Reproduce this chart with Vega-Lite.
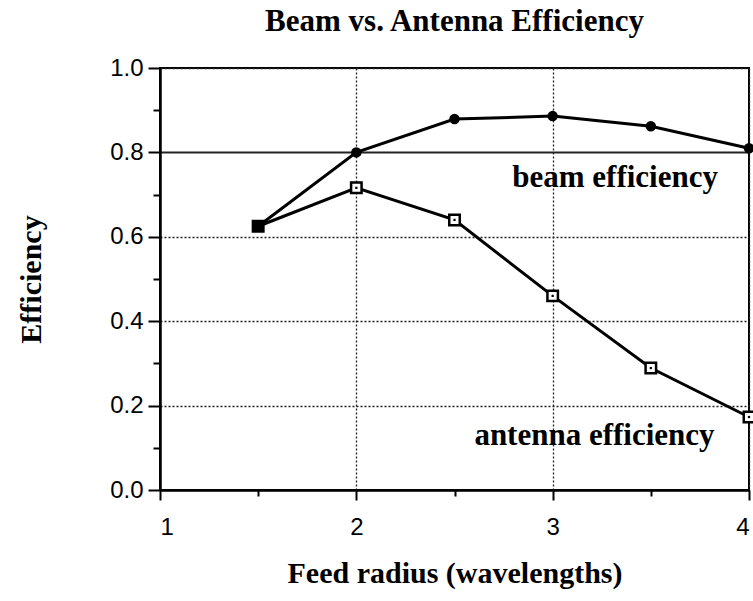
{
  "$schema": "https://vega.github.io/schema/vega-lite/v6.json",
  "autosize": "none",
  "width": 589,
  "height": 422,
  "padding": {"left": 160, "top": 68, "right": 4, "bottom": 111},
  "background": "white",
  "title": {
    "text": "Beam vs. Antenna Efficiency",
    "font": "Liberation Serif",
    "fontSize": 31,
    "fontWeight": "bold",
    "color": "black",
    "anchor": "middle",
    "offset": 18
  },
  "config": {
    "view": {"stroke": "black", "strokeWidth": 2},
    "axis": {
      "domainColor": "black",
      "domainWidth": 2.5,
      "tickColor": "black",
      "tickWidth": 2,
      "labelFont": "Liberation Sans",
      "labelFontSize": 24,
      "labelColor": "black",
      "titleFont": "Liberation Serif",
      "titleFontWeight": "bold",
      "titleFontSize": 30,
      "titleColor": "black",
      "gridColor": "#222",
      "gridWidth": 1.3
    }
  },
  "datasets": {
    "curves": [
      {"radius": 1.5, "efficiency": 0.625, "series": "beam efficiency"},
      {"radius": 2.0, "efficiency": 0.80, "series": "beam efficiency"},
      {"radius": 2.5, "efficiency": 0.879, "series": "beam efficiency"},
      {"radius": 3.0, "efficiency": 0.886, "series": "beam efficiency"},
      {"radius": 3.5, "efficiency": 0.862, "series": "beam efficiency"},
      {"radius": 4.0, "efficiency": 0.81, "series": "beam efficiency"},
      {"radius": 1.5, "efficiency": 0.625, "series": "antenna efficiency"},
      {"radius": 2.0, "efficiency": 0.716, "series": "antenna efficiency"},
      {"radius": 2.5, "efficiency": 0.64, "series": "antenna efficiency"},
      {"radius": 3.0, "efficiency": 0.46, "series": "antenna efficiency"},
      {"radius": 3.5, "efficiency": 0.289, "series": "antenna efficiency"},
      {"radius": 4.0, "efficiency": 0.173, "series": "antenna efficiency"}
    ],
    "labels": [
      {"radius": 3.318, "efficiency": 0.718, "label": "beam efficiency"},
      {"radius": 3.213, "efficiency": 0.107, "label": "antenna efficiency"}
    ]
  },
  "layer": [
    {
      "data": {"name": "curves"},
      "mark": {"type": "line", "color": "black", "strokeWidth": 3},
      "encoding": {
        "x": {
          "field": "radius", "type": "quantitative",
          "scale": {"domain": [1, 4], "nice": false},
          "axis": {
            "title": "Feed radius (wavelengths)",
            "titleBaseline": "alphabetic",
            "titlePadding": 43,
            "values": [1, 1.5, 2, 2.5, 3, 3.5, 4],
            "labelExpr": "datum.value % 1 == 0 ? format(datum.value, 'd') : ''",
            "labelPadding": 15,
            "tickSize": {"condition": {"test": "datum.value % 1 == 0", "value": 10}, "value": 6},
            "grid": true,
            "gridDash": [2, 2],
            "gridOpacity": {"condition": {"test": "datum.value % 1 == 0", "value": 1}, "value": 0}
          }
        },
        "y": {
          "field": "efficiency", "type": "quantitative",
          "scale": {"domain": [0, 1], "nice": false},
          "axis": {
            "title": "Efficiency",
            "titlePadding": 63,
            "values": [0, 0.1, 0.2, 0.3, 0.4, 0.5, 0.6, 0.7, 0.8, 0.9, 1.0],
            "labelExpr": "round(datum.value * 10) % 2 == 0 ? format(datum.value, '.1f') : ''",
            "labelPadding": 5,
            "tickSize": {"condition": {"test": "round(datum.value * 10) % 2 == 0", "value": 12}, "value": 7},
            "grid": true,
            "gridDash": {"condition": {"test": "round(datum.value * 10) == 8", "value": []}, "value": [2, 2]},
            "gridWidth": {"condition": {"test": "round(datum.value * 10) == 8", "value": 2.2}, "value": 1.3},
            "gridOpacity": {"condition": {"test": "round(datum.value * 10) % 2 == 0", "value": 1}, "value": 0}
          }
        },
        "detail": {"field": "series"}
      }
    },
    {
      "data": {"name": "curves"},
      "transform": [{"filter": "datum.series == 'beam efficiency'"}],
      "mark": {"type": "point", "shape": "circle", "filled": true, "color": "black", "size": 110, "opacity": 1},
      "encoding": {
        "x": {"field": "radius", "type": "quantitative"},
        "y": {"field": "efficiency", "type": "quantitative"}
      }
    },
    {
      "data": {"name": "curves"},
      "transform": [{"filter": "datum.series == 'antenna efficiency'"}],
      "mark": {"type": "point", "shape": "square", "filled": false, "stroke": "black", "strokeWidth": 2.5, "size": 110, "opacity": 1},
      "encoding": {
        "x": {"field": "radius", "type": "quantitative"},
        "y": {"field": "efficiency", "type": "quantitative"},
        "fill": {"condition": {"test": "datum.radius == 1.5", "value": "black"}, "value": "white"}
      }
    },
    {
      "data": {"name": "curves"},
      "transform": [{"filter": "datum.series == 'antenna efficiency' && datum.radius > 1.5"}],
      "mark": {"type": "point", "shape": "square", "filled": true, "color": "black", "size": 5, "opacity": 1},
      "encoding": {
        "x": {"field": "radius", "type": "quantitative"},
        "y": {"field": "efficiency", "type": "quantitative"}
      }
    },
    {
      "data": {"name": "labels"},
      "mark": {"type": "text", "font": "Liberation Serif", "fontWeight": "bold", "fontSize": 31, "color": "black", "align": "center", "baseline": "alphabetic"},
      "encoding": {
        "x": {"field": "radius", "type": "quantitative"},
        "y": {"field": "efficiency", "type": "quantitative"},
        "text": {"field": "label"}
      }
    }
  ]
}
